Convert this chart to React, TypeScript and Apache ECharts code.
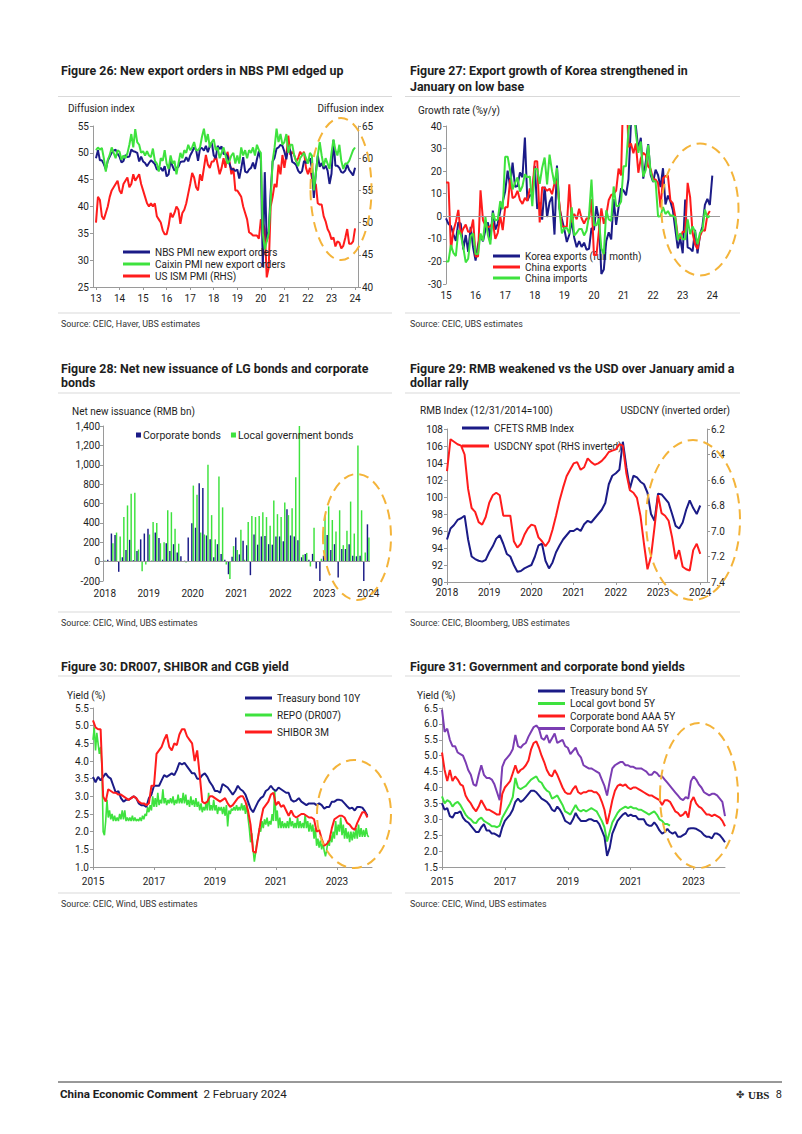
import React, { useEffect, useRef } from "react";
import * as echarts from "echarts";

const FONT = 'Roboto, "Noto Sans", "DejaVu Sans", sans-serif';
const NAVY = "#1b1b87";
const GREEN = "#3ee23e";
const RED = "#ff1c1c";
const PURPLE = "#7b3db3";
const ORANGE = "#f4b43a";
const AXIS = "#9a9a9a";
const INK = "#1e1e1e";
const RULE = "#d9d9d9";

// ---------------- Figure 26 (monthly, Jan 2013 - Jan 2024) ----------------
const fig26Start = 2013;
const fig26Years = [2013, 2014, 2015, 2016, 2017, 2018, 2019, 2020, 2021, 2022, 2023, 2024];
const nbsNewExportOrders = [
  49.0, 50.5, 48.6, 48.6, 47.9, 46.9, 48.5, 49.3, 50.0, 50.4, 50.6, 49.8,
  49.3, 48.2, 48.5, 49.6, 49.2, 49.3, 50.6, 50.3, 50.2, 50.0, 48.4, 49.3,
  48.4, 48.1, 47.5, 48.1, 48.6, 48.3, 47.9, 46.9, 46.9, 47.2, 46.6, 47.5,
  45.6, 46.0, 48.6, 47.5, 46.7, 47.2, 47.4, 48.3, 48.4, 48.4, 49.2, 48.4,
  49.5, 50.2, 51.0, 50.6, 48.5, 50.8, 50.9, 50.4, 51.3, 50.1, 51.3, 51.9,
  49.5, 49.0, 51.3, 50.7, 51.2, 49.8, 49.8, 49.4, 48.0, 46.9, 47.0, 46.6,
  46.9, 45.2, 47.1, 49.2, 46.5, 46.3, 46.9, 47.2, 48.2, 47.0, 48.8, 50.3,
  48.7, 28.7, 46.4, 33.5, 35.3, 42.6, 48.4, 49.1, 50.8, 51.0, 51.5, 51.3,
  50.2, 48.8, 51.2, 50.4, 48.3, 48.1, 47.7, 46.7, 46.2, 46.6, 48.5, 48.1,
  48.4, 49.0, 47.2, 41.6, 46.2, 49.5, 47.4, 48.1, 47.0, 47.6, 46.7, 44.2,
  46.1, 52.4, 47.6, 47.6, 47.2, 46.4, 46.3, 46.7, 47.8, 46.8, 46.3, 45.8,
  47.2,
];
const caixinNewExportOrders = [
  50.5, 51.0, 50.6, 50.9, 49.0, 46.5, 48.7, 49.6, 51.0, 50.0, 49.0, 50.5,
  50.2, 48.7, 49.5, 49.0, 49.9, 51.5, 53.5, 51.0, 54.4, 52.0, 51.5, 50.0,
  50.3, 49.5, 50.3, 49.5, 49.2, 50.8, 48.5, 48.0, 46.5, 49.0, 48.5, 50.5,
  48.0, 47.0, 49.5, 48.0, 48.5, 46.0, 48.0, 50.0, 49.0, 50.5, 50.0, 51.5,
  50.5, 51.0, 52.0, 50.5, 50.5, 51.0, 53.0, 54.5, 52.0, 53.5, 51.0, 52.0,
  52.5, 50.5, 51.0, 49.0, 50.0, 51.0, 49.5, 48.0, 48.5, 49.5, 50.0, 48.0,
  49.5, 48.0, 51.0, 49.5, 50.5, 49.0, 50.5, 50.0, 51.0, 49.5, 51.5, 50.5,
  50.0, 35.0, 32.0, 33.5, 35.0, 41.0, 48.5, 51.0, 54.5, 52.0, 53.5, 51.5,
  52.0, 53.5, 50.0, 51.5, 51.5, 49.5, 48.5, 47.5, 49.0, 49.5, 50.0, 49.0,
  48.0, 50.0, 49.5, 43.0, 46.0, 49.5, 52.0, 49.5, 47.5, 49.0, 48.0, 47.0,
  50.0, 52.5, 50.5, 49.5, 51.5, 48.5, 47.0, 48.0, 48.0, 48.5, 49.5, 50.5,
  51.0,
];
const usIsmPmi = [
  50.0, 54.0, 53.5, 51.0, 50.5, 51.5, 52.5, 54.0, 55.0, 55.5, 56.0, 56.5,
  55.0, 54.5, 56.0, 56.5, 57.0, 55.5, 56.0, 57.5, 56.5, 57.0, 57.5, 56.0,
  55.0, 54.0, 53.0, 52.5, 53.0, 52.5, 53.0, 51.0, 50.5, 50.0, 48.8, 48.2,
  48.2, 49.5, 51.5, 50.8, 51.5, 52.5, 52.0, 49.8, 51.5, 52.0, 53.0, 54.5,
  56.0, 57.7, 57.0, 55.5, 55.0, 57.5, 56.5, 58.5, 60.5, 59.0, 58.5, 59.5,
  59.5, 60.5, 59.0, 57.5, 58.5, 60.0, 58.5, 61.0, 59.5, 57.5, 58.5, 55.0,
  55.0, 54.5, 54.0, 52.5, 51.5, 50.5, 48.5, 48.3, 48.0, 48.0, 48.0, 47.5,
  50.5, 50.0, 49.0, 41.5, 43.0, 52.5, 54.0, 56.0, 55.5, 59.0, 57.5, 60.5,
  58.5, 60.5, 63.5, 60.5, 61.0, 60.5, 59.5, 60.0, 61.0, 60.5, 61.0, 58.5,
  57.5, 58.5, 57.0, 55.5, 56.0, 53.0, 52.8, 52.8, 51.0, 50.2, 49.0, 48.4,
  47.4, 47.7, 46.3, 47.1, 46.9, 46.0, 46.4, 47.6, 49.0, 46.7, 46.7, 47.1,
  49.1,
];

// ---------------- Figure 27 (monthly, Jan 2015 - Jan 2024) ----------------
const fig27Start = 2015;
const fig27Years = [2015, 2016, 2017, 2018, 2019, 2020, 2021, 2022, 2023, 2024];
const koreaExports = [
  -0.9, -3.4, -4.3, -8.0, -10.9, -2.7, -3.3, -14.7, -8.3, -15.8, -4.7, -13.9,
  -19.6, -12.5, -8.3, -11.1, -6.0, -2.7, -10.4, 2.5, -5.9, -3.2, 2.3, 6.4,
  11.1, 20.2, 13.1, 23.8, 13.1, 13.4, 19.4, 17.3, 34.9, 6.8, 9.5, 8.9,
  22.3, 3.3, 6.1, -1.5, 13.2, -0.3, 6.2, 8.7, -8.1, 22.5, 3.6, -1.2,
  -5.8, -11.4, -8.2, -2.0, -9.5, -13.7, -11.0, -13.6, -11.7, -14.8, -14.4, -5.2,
  -6.1, 4.5, -1.4, -25.6, -23.6, -10.9, -7.1, -10.3, 7.6, -3.8, 4.1, 12.4,
  11.4, 9.3, 16.4, 41.2, 45.6, 39.8, 29.5, 34.8, 16.7, 24.0, 32.0, 18.3,
  15.2, 20.6, 18.2, 12.9, 21.3, 5.2, 9.2, 6.6, 2.7, -5.8, -14.2, -9.7,
  -16.4, 7.4, -13.8, -14.3, -15.5, -6.0, -16.4, -8.3, -4.4, 5.1, 7.7, 5.0,
  18.0,
];
const chinaExports = [
  15.0, 15.0, -15.0, -6.4, -2.5, 2.8, -8.3, -5.5, -3.7, -6.9, -6.8, -1.4,
  -17.8, -17.8, 11.5, -1.8, -4.1, -4.8, -4.4, -2.8, -10.0, -7.3, 0.1, -6.1,
  4.0, 4.0, 16.4, 8.0, 8.7, 11.3, 7.2, 5.5, 8.1, 6.9, 12.3, 10.9,
  24.4, 24.4, -2.7, 12.9, 12.6, 11.3, 12.2, 9.8, 14.5, 15.6, 5.4, -4.4,
  -4.6, -4.6, 14.2, -2.7, 1.1, -1.3, 3.3, -1.0, -3.2, -0.9, -1.1, 7.6,
  -17.2, -17.2, -6.6, 3.5, -3.3, 0.5, 7.2, 9.5, 9.9, 11.4, 21.1, 18.1,
  60.6, 60.6, 30.6, 32.3, 27.9, 32.2, 19.3, 25.6, 28.1, 27.1, 22.0, 20.9,
  16.3, 16.3, 14.7, 3.9, 16.9, 17.9, 18.0, 7.1, 5.7, -0.3, -8.7, -9.9,
  -6.8, -6.8, 14.8, 8.5, -7.5, -12.4, -14.5, -8.8, -6.2, -6.4, 0.5, 2.3,
];
const chinaImports = [
  -20.0, -20.0, -12.7, -16.2, -17.6, -6.1, -8.1, -13.8, -20.4, -18.8, -8.7, -7.6,
  -16.7, -16.7, -7.6, -10.9, -0.4, -8.4, -12.5, 1.5, -1.9, -1.4, 6.7, 3.1,
  26.4, 26.4, 20.3, 11.9, 14.8, 17.2, 11.0, 13.3, 18.7, 17.2, 17.7, 4.5,
  21.0, 21.0, 14.4, 21.5, 26.0, 14.1, 27.3, 20.0, 14.3, 21.4, 3.0, -7.6,
  -5.2, -5.2, -7.6, 4.0, -8.5, -7.3, -5.6, -5.6, -8.5, -6.4, 0.3, 16.3,
  -4.0, -4.0, -0.9, -14.2, -16.7, 2.7, -1.4, -2.1, 13.2, 4.7, 4.5, 6.5,
  22.2, 22.2, 38.1, 43.1, 51.1, 36.7, 28.1, 33.1, 17.6, 20.6, 31.7, 19.5,
  15.5, 15.5, -0.1, 0.0, 4.1, 1.0, 2.3, 0.3, 0.3, -0.7, -10.6, -7.5,
  -10.2, -10.2, -1.4, -7.9, -4.5, -6.8, -12.4, -7.3, -6.2, 3.0, -0.6, 0.2,
];

// ---------------- Figure 28 (monthly bars, Jan 2018 - Jan 2024, RMB bn) ----------------
const fig28Months = Array.from({ length: 73 }, (_, i) =>
  `${2018 + Math.floor(i / 12)}-${String((i % 12) + 1).padStart(2, "0")}`
);
const corporateBonds = [
  10, 20, 290, 275, -105, 45, 120, 225, 15, 110, 230, 290,
  340, 10, 300, 245, 20, 190, 110, 180, 95, 55, 10, 250,
  395, 350, 810, 760, 270, 230, 45, 180, 80, 20, -130, 50,
  250, 75, 215, 170, -140, 280, 175, 260, 265, 180, 175, 260,
  260, 210, 540, 270, 260, 220, 45, 80, 20, 80, -70, -210,
  60, 275, 120, 180, -165, 130, 130, 180, 60, 55, 60, -215,
  385,
];
const localGovtBonds = [
  10, 0, 190, 300, 260, 460, 580, 700, 710, 125, -100, -30,
  280, 410, 400, 190, 200, 530, 510, 340, 185, 0, -10, 0,
  785, 690, 300, 280, 1000, 480, 230, 880, 560, -30, -180, 160,
  120, 330, 20, 410, 470, 460, 470, 510, 460, 370, 630, 490,
  460, 610, 480, 550, 870, 1400, 70, 90, -50, 350, 0, 30,
  480, 570, 430, 310, 530, 170, 320, 620, 290, 1200, 530, 95,
  250,
];

// ---------------- Figure 29 (monthly, Jan 2018 - Jan 2024) ----------------
const fig29Start = 2018;
const fig29Years = [2018, 2019, 2020, 2021, 2022, 2023, 2024];
const cfetsRmbIndex = [
  95.0, 96.3, 96.7, 97.3, 97.5, 97.8, 95.0, 93.0, 92.7, 92.5, 92.4, 92.6,
  93.5, 94.2, 95.1, 95.5, 94.5, 93.3, 93.0, 92.0, 91.2, 91.3, 91.6, 91.8,
  92.0, 93.0, 94.3, 94.5, 92.5, 91.6, 92.3, 93.5, 94.3, 95.0, 95.5, 96.0,
  96.0, 96.3, 96.0, 96.8, 97.2, 97.0, 97.5, 98.0, 98.5, 99.3, 101.5, 102.5,
  102.8, 103.2, 106.5, 103.5, 101.0, 102.5, 102.3, 101.8, 101.5, 100.5, 98.0, 97.2,
  100.4, 100.3, 99.8, 99.3, 98.0, 96.6, 96.3, 97.0, 98.5, 99.6, 98.7, 98.0,
  99.0,
];
const usdcnySpot = [
  6.53, 6.28, 6.30, 6.32, 6.33, 6.40, 6.67, 6.82, 6.85, 6.93, 6.95, 6.89,
  6.78, 6.72, 6.70, 6.72, 6.88, 6.88, 6.88, 7.08, 7.13, 7.10, 7.03, 6.98,
  6.95, 6.96, 7.05, 7.08, 7.12, 7.08, 6.99, 6.88, 6.76, 6.66, 6.57, 6.52,
  6.47, 6.46, 6.52, 6.50, 6.43, 6.46, 6.48, 6.47, 6.45, 6.42, 6.38, 6.37,
  6.36, 6.32, 6.33, 6.55, 6.68, 6.70, 6.74, 6.88, 7.10, 7.30, 7.20, 6.97,
  6.72, 6.86, 6.88, 6.92, 7.05, 7.22, 7.15, 7.28, 7.30, 7.31, 7.15, 7.10,
  7.18,
];

// ---------------- Figure 30 (Jan 2015 - Jan 2024) ----------------
const fig30Start = 2015;
const fig30Years = [2015, 2017, 2019, 2021, 2023];
const treasury10y = [
  3.55, 3.40, 3.55, 3.45, 3.55, 3.65, 3.55, 3.50, 3.30, 3.10, 3.15, 2.95,
  2.85, 2.90, 2.90, 2.95, 3.00, 2.95, 2.80, 2.75, 2.75, 2.70, 2.95, 3.05,
  3.30, 3.30, 3.30, 3.45, 3.60, 3.55, 3.60, 3.65, 3.60, 3.75, 3.95, 3.90,
  3.95, 3.85, 3.75, 3.65, 3.65, 3.50, 3.50, 3.60, 3.65, 3.55, 3.40, 3.30,
  3.15, 3.15, 3.10, 3.35, 3.30, 3.25, 3.15, 3.05, 3.15, 3.30, 3.20, 3.15,
  3.05, 2.85, 2.65, 2.55, 2.70, 2.85, 2.95, 3.00, 3.15, 3.20, 3.30, 3.20,
  3.15, 3.25, 3.20, 3.15, 3.10, 3.10, 2.90, 2.85, 2.88, 2.95, 2.85, 2.80,
  2.75, 2.80, 2.80, 2.80, 2.75, 2.80, 2.75, 2.65, 2.70, 2.70, 2.85, 2.85,
  2.90, 2.90, 2.88, 2.80, 2.72, 2.65, 2.68, 2.60, 2.70, 2.70, 2.68, 2.58,
  2.45,
];
// semi-monthly
const repoDr007 = [
  4.6, 4.95, 4.3, 4.8, 4.5, 4.2, 4.4, 3.9, 2.0, 1.9, 2.3, 2.9, 2.4, 2.6, 2.35, 2.5, 2.3, 2.45, 2.3, 2.4, 2.3, 2.5, 2.35, 2.6,
  2.35, 2.6, 2.3, 2.4, 2.3, 2.4, 2.3, 2.45, 2.3, 2.4, 2.3, 2.35, 2.3, 2.4, 2.3, 2.45, 2.35, 2.5, 2.45, 2.7, 2.55, 2.75, 2.6, 3.0,
  2.7, 2.95, 2.7, 3.1, 2.75, 2.9, 2.8, 3.2, 2.8, 2.95, 2.75, 2.9, 2.8, 2.95, 2.8, 3.0, 2.75, 2.9, 2.8, 3.05, 2.8, 2.95, 2.8, 3.1,
  2.8, 3.05, 2.75, 2.9, 2.7, 3.0, 2.75, 2.9, 2.7, 2.95, 2.7, 2.85, 2.6, 2.8, 2.55, 2.7, 2.6, 2.8, 2.6, 3.1, 2.6, 2.75, 2.6, 2.9,
  2.6, 2.75, 2.5, 2.7, 2.6, 2.7, 2.5, 2.7, 2.45, 2.75, 2.15, 2.6, 2.5, 2.65, 2.6, 2.7, 2.6, 2.75, 2.6, 2.7, 2.6, 2.8, 2.6, 2.75,
  2.5, 2.8, 2.4, 2.1, 1.7, 1.95, 1.5, 1.15, 1.4, 1.7, 1.85, 2.1, 2.0, 2.3, 2.1, 2.35, 2.2, 2.4, 2.15, 2.3, 2.2, 2.5, 2.3, 3.2,
  2.3, 2.6, 2.1, 2.4, 2.1, 2.3, 2.1, 2.25, 2.1, 2.3, 2.1, 2.4, 2.15, 2.3, 2.1, 2.25, 2.1, 2.4, 2.1, 2.3, 2.1, 2.25, 2.1, 2.5,
  2.1, 2.3, 2.0, 2.25, 2.0, 2.2, 1.8, 2.1, 1.6, 1.8, 1.55, 1.75, 1.5, 1.7, 1.45, 1.3, 1.5, 1.75, 1.6, 1.9, 1.7, 2.0, 1.8, 2.3,
  1.9, 2.2, 2.0, 2.4, 1.9, 2.2, 1.8, 2.1, 1.8, 2.0, 1.7, 2.0, 1.75, 2.0, 1.8, 2.1, 1.8, 2.2, 1.85, 2.1, 1.85, 2.05, 1.85, 2.1,
  1.9, 1.85,
];
const shibor3m = [
  5.15, 4.95, 4.90, 4.90, 3.00, 2.85, 3.20, 3.15, 3.10, 3.10, 3.05, 3.05,
  3.00, 2.95, 2.90, 2.95, 3.00, 2.95, 2.85, 2.80, 2.80, 2.75, 2.80, 3.30,
  3.30, 4.20, 4.30, 4.40, 4.60, 4.75, 4.40, 4.30, 4.50, 4.45, 4.75, 4.90,
  4.90, 4.70, 4.60, 4.50, 4.00, 4.30, 3.60, 2.85, 2.80, 2.85, 3.00, 3.00,
  2.95, 2.90, 2.85, 2.90, 2.95, 2.80, 2.70, 2.75, 2.85, 2.95, 3.00, 3.00,
  2.85, 2.60, 2.20, 1.45, 1.40, 1.85, 2.30, 2.65, 2.75, 2.85, 3.05, 3.10,
  2.75, 2.85, 2.70, 2.75, 2.60, 2.45, 2.60, 2.45, 2.40, 2.45, 2.50, 2.50,
  2.45, 2.40, 2.40, 2.35, 2.00, 2.05, 1.80, 1.60, 1.65, 1.75, 2.10, 2.35,
  2.40, 2.45, 2.45, 2.40, 2.25, 2.20, 2.10, 2.05, 2.25, 2.40, 2.55, 2.55,
  2.40,
];

// ---------------- Figure 31 (monthly, Jan 2015 - Jan 2024) ----------------
const fig31Start = 2015;
const treasury5y = [
  3.50, 3.30, 3.35, 3.10, 3.05, 3.20, 3.20, 3.25, 3.05, 2.95, 2.90, 2.80,
  2.70, 2.60, 2.60, 2.75, 2.85, 2.65, 2.65, 2.55, 2.55, 2.50, 2.45, 2.75,
  2.95, 3.05, 3.15, 3.30, 3.55, 3.65, 3.55, 3.60, 3.70, 3.80, 3.90, 3.90,
  3.85, 3.75, 3.65, 3.60, 3.55, 3.45, 3.30, 3.25, 3.40, 3.30, 3.15, 2.95,
  2.90, 2.85, 3.00, 3.20, 3.05, 2.95, 2.95, 2.95, 3.00, 3.00, 2.95, 2.95,
  2.85, 2.65, 2.45, 1.85, 2.10, 2.55, 2.75, 2.95, 3.05, 3.15, 3.20, 3.10,
  3.15, 3.10, 3.10, 3.00, 3.00, 3.00, 2.85, 2.80, 2.80, 2.90, 2.80, 2.65,
  2.55, 2.60, 2.70, 2.60, 2.55, 2.60, 2.45, 2.45, 2.50, 2.55, 2.70, 2.72,
  2.72, 2.70, 2.65, 2.60, 2.50, 2.45, 2.45, 2.40, 2.55, 2.55, 2.50, 2.40,
  2.28,
];
const localGovt5y = [
  3.72, 3.50, 3.60, 3.55, 3.40, 3.50, 3.55, 3.45, 3.30, 3.15, 3.05, 3.00,
  2.90, 2.88, 3.00, 3.05, 2.95, 2.90, 2.85, 2.78, 2.78, 2.75, 2.80, 3.05,
  3.20, 3.35, 3.50, 3.70, 4.30, 4.00, 3.95, 4.00, 4.05, 4.15, 4.25, 4.30,
  4.35, 4.20, 4.15, 4.00, 3.90, 3.85, 3.65, 3.70, 3.75, 3.60, 3.45, 3.25,
  3.20, 3.15, 3.30, 3.45, 3.30, 3.25, 3.30, 3.25, 3.30, 3.35, 3.30, 3.25,
  3.10, 2.95, 2.75, 2.30, 2.60, 2.90, 3.05, 3.20, 3.30, 3.35, 3.40, 3.35,
  3.40, 3.35, 3.35, 3.30, 3.30, 3.25, 3.20, 3.15, 3.20, 3.25, 3.15, 3.00,
  2.95, 2.85, 2.85, 2.80,
];
const corporateAaa5y = [
  5.10, 4.55, 4.20, 4.55, 4.20, 4.35, 4.25, 4.10, 4.05, 3.75, 3.60, 3.50,
  3.35, 3.25, 3.40, 3.60, 3.45, 3.30, 3.30, 3.25, 3.20, 3.15, 3.15, 3.80,
  4.00, 4.10, 4.20, 4.45, 4.70, 4.45, 4.55, 4.60, 4.70, 4.85, 5.20, 5.40,
  5.45, 5.25, 5.00, 4.80, 4.55, 4.40, 4.35, 4.55, 4.40, 4.20, 4.00, 3.85,
  3.80, 3.80, 3.95, 4.05, 3.85, 3.80, 3.85, 3.85, 3.90, 3.90, 3.85, 3.85,
  3.75, 3.55, 3.30, 2.85, 3.20, 3.60, 3.90, 4.05, 4.10, 4.05, 4.10, 4.00,
  3.95, 4.00, 4.00, 3.95, 3.90, 3.85, 3.80, 3.75, 3.75, 3.70, 3.65, 3.60,
  3.45, 3.60, 3.60, 3.55, 3.40, 3.25, 3.20, 3.10, 3.15, 3.25, 3.05, 3.55,
  3.70, 3.50, 3.40, 3.35, 3.25, 3.15, 3.15, 3.10, 3.15, 3.10, 3.05, 2.95,
  2.78,
];
const corporateAa5y = [
  6.45, 5.75, 5.85, 5.50, 5.30, 5.30, 5.10, 5.05, 5.00, 4.80, 4.55, 4.40,
  4.10, 4.05, 4.40, 4.70, 4.40, 4.30, 4.30, 4.25, 4.10, 3.85, 3.60, 4.65,
  4.85, 4.95, 5.05, 5.20, 5.65, 5.30, 5.25, 5.35, 5.40, 5.60, 5.75, 5.90,
  5.95, 5.85, 5.55, 5.50, 5.65, 5.40, 5.55, 5.70, 5.40, 5.45, 5.50, 5.30,
  5.25, 5.05, 5.15, 5.25, 5.05, 4.95, 4.70, 4.65, 4.60, 4.60, 4.55, 4.50,
  4.45, 4.25, 4.05, 3.75, 4.20, 4.60, 4.70, 4.75, 4.80, 4.80, 4.70, 4.70,
  4.65, 4.65, 4.60, 4.60, 4.60, 4.55, 4.50, 4.40, 4.40, 4.50, 4.45, 4.35,
  4.35, 4.25, 4.15, 4.05, 3.95, 3.85, 3.75, 3.65, 3.60, 3.70, 3.65, 4.20,
  4.35, 4.25, 4.10, 4.00, 3.85, 3.80, 3.75, 3.80, 3.80, 3.75, 3.65, 3.55,
  3.10,
];

// ---------------- helpers ----------------
const toPoints = (start: number, values: number[], perYear = 12) =>
  values.map((v, i) => [start + i / perYear, v]);

const xValueAxis = (
  gridIndex: number,
  min: number,
  max: number,
  ticks: number[],
  fmt: (v: number) => string,
  showLine: boolean,
  margin: number
) => ({
  type: "value",
  gridIndex,
  min,
  max,
  axisLine: { show: showLine, onZero: false, lineStyle: { color: AXIS, width: 1 } },
  axisTick: { show: showLine, customValues: ticks, length: 3, lineStyle: { color: AXIS } },
  axisLabel: { customValues: ticks, formatter: fmt, fontSize: 10, color: INK, fontFamily: FONT, margin },
  splitLine: { show: false },
});

const yValueAxis = (
  gridIndex: number,
  min: number,
  max: number,
  interval: number,
  fmt?: (v: number) => string,
  extra: any = {}
) => ({
  type: "value",
  gridIndex,
  min,
  max,
  interval,
  axisLine: { show: true, onZero: false, lineStyle: { color: AXIS, width: 1 } },
  axisTick: { show: true, length: 3, lineStyle: { color: AXIS } },
  axisLabel: { fontSize: 10, color: INK, fontFamily: FONT, margin: 4, formatter: fmt },
  splitLine: { show: false },
  ...extra,
});

const lineSeries = (
  name: string,
  color: string,
  data: number[][],
  xAxisIndex: number,
  yAxisIndex: number,
  width = 2,
  z = 2
) => ({
  name,
  type: "line",
  xAxisIndex,
  yAxisIndex,
  data,
  showSymbol: false,
  symbol: "none",
  color,
  lineStyle: { color, width },
  itemStyle: { color },
  z,
  silent: true,
  emphasis: { disabled: true },
});

const zeroLine = {
  silent: true,
  symbol: "none",
  label: { show: false },
  lineStyle: { color: AXIS, type: "solid", width: 1 },
  data: [{ yAxis: 0 }],
};

const lineLegend = (names: string[], left: number, top: number, gap: number, lineHeight = 12) => ({
  show: true,
  orient: "vertical",
  left,
  top,
  padding: 0,
  itemGap: gap,
  itemWidth: 27,
  itemHeight: 3,
  icon: "rect",
  selectedMode: false,
  data: names,
  textStyle: { fontSize: 10, color: INK, fontFamily: FONT, lineHeight },
});

const text = (x: number, y: number, t: string, o: any = {}) => ({
  type: "text",
  x,
  y,
  silent: true,
  z: 50,
  style: {
    text: t,
    fill: o.fill || INK,
    fontSize: o.size || 10,
    fontWeight: o.weight || "normal",
    fontFamily: o.family || FONT,
    align: o.align || "left",
    verticalAlign: "middle",
    rich: o.rich,
  },
});

const rule = (x1: number, x2: number, y: number, color = RULE, w = 1) => ({
  type: "line",
  silent: true,
  z: 50,
  shape: { x1, y1: y, x2, y2: y },
  style: { stroke: color, lineWidth: w },
});

const ring = (cx: number, cy: number, rx: number, ry: number) => ({
  type: "ellipse",
  silent: true,
  z: 100,
  shape: { cx, cy, rx, ry },
  style: { fill: "none", stroke: ORANGE, lineWidth: 2, lineDash: [10, 6] },
});

const twoDigit = (v: number) => String(Math.round(v) % 100).padStart(2, "0");
const fullYear = (v: number) => String(Math.round(v));
const oneDec = (v: number) => v.toFixed(1);
const thousands = (v: number) => Math.round(v).toLocaleString("en-US");

function buildOption() {
  const LX0 = 58, LX1 = 392, RX0 = 405, RX1 = 740;
  const TITLE = { size: 12.4, weight: "bold" };
  const SRC = { size: 8.9, fill: "#333" };

  const graphicElements: any[] = [
    // Figure 26
    text(61, 70, "Figure 26: New export orders in NBS PMI edged up", TITLE),
    rule(LX0, LX1, 96.5),
    text(68, 108, "Diffusion index"),
    text(384, 108, "Diffusion index", { align: "right" }),
    rule(LX0, LX1, 313),
    text(61, 324, "Source: CEIC, Haver, UBS estimates", SRC),
    ring(341, 189, 30.5, 71),
    // Figure 27
    text(410, 70, "Figure 27: Export growth of Korea strengthened in", TITLE),
    text(410, 86, "January on low base", TITLE),
    rule(RX0, RX1, 96.5),
    text(418, 110, "Growth rate (%y/y)"),
    rule(RX0, RX1, 313),
    text(410, 324, "Source: CEIC, UBS estimates", SRC),
    ring(700, 209.5, 38.5, 66),
    // Figure 28
    text(61, 368, "Figure 28: Net new issuance of LG bonds and corporate", TITLE),
    text(61, 382.5, "bonds", TITLE),
    rule(LX0, LX1, 393),
    text(72, 411, "Net new issuance (RMB bn)"),
    rule(LX0, LX1, 612),
    text(61, 622.5, "Source: CEIC, Wind, UBS estimates", SRC),
    ring(357, 537, 34, 63),
    // Figure 29
    text(410, 368, "Figure 29: RMB weakened vs the USD over January amid a", TITLE),
    text(410, 382.5, "dollar rally", TITLE),
    rule(RX0, RX1, 393),
    text(420, 410, "RMB Index (12/31/2014=100)"),
    text(730, 410, "USDCNY (inverted order)", { align: "right" }),
    rule(RX0, RX1, 612),
    text(410, 622.5, "Source: CEIC, Bloomberg, UBS estimates", SRC),
    ring(693, 520, 47, 80),
    // Figure 30
    text(61, 666, "Figure 30: DR007, SHIBOR and CGB yield", TITLE),
    rule(LX0, LX1, 676),
    text(67, 695, "Yield (%)"),
    rule(LX0, LX1, 893),
    text(61, 903.5, "Source: CEIC, Wind, UBS estimates", SRC),
    ring(354, 814, 37, 54),
    // Figure 31
    text(410, 666, "Figure 31: Government and corporate bond yields", TITLE),
    rule(RX0, RX1, 676),
    text(417, 695, "Yield (%)"),
    rule(RX0, RX1, 893),
    text(410, 903.5, "Source: CEIC, Wind, UBS estimates", SRC),
    ring(699, 795.5, 39, 72.5),
    // Footer
    rule(58, 782, 1082, "#333", 1),
    text(60, 1093.5, "{b|China Economic Comment}{r|  2 February 2024}", {
      rich: {
        b: { fontSize: 11.6, fontWeight: "bold", fontFamily: FONT, fill: INK },
        r: { fontSize: 11.6, fontFamily: FONT, fill: INK },
      },
    }),
    text(736, 1094, "✤", { size: 10, family: '"DejaVu Sans", sans-serif', fill: "#333" }),
    text(748, 1094.5, "UBS", { size: 11, weight: "bold", family: '"Liberation Serif", "DejaVu Serif", serif' }),
    text(782, 1094, "8", { size: 11, align: "right" }),
  ];

  return {
    animation: false,
    backgroundColor: "#ffffff",
    textStyle: { fontFamily: FONT },
    grid: [
      { left: 93, top: 126, width: 265, height: 161 },
      { left: 446, top: 126, width: 274, height: 158 },
      { left: 103, top: 426, width: 267, height: 155 },
      { left: 447, top: 429, width: 260, height: 153 },
      { left: 93, top: 708, width: 279, height: 159 },
      { left: 442, top: 708, width: 283, height: 159 },
    ],
    xAxis: [
      xValueAxis(0, 2012.873, 2024.125, fig26Years, twoDigit, true, 6),
      xValueAxis(1, 2015, 2024.26, fig27Years, twoDigit, false, 6),
      {
        type: "category",
        gridIndex: 2,
        data: fig28Months,
        boundaryGap: true,
        axisLine: { show: false },
        axisTick: { show: false },
        axisLabel: {
          interval: 11,
          formatter: (v: string) => v.slice(0, 4),
          fontSize: 10,
          color: INK,
          fontFamily: FONT,
          margin: 7,
        },
        splitLine: { show: false },
      },
      xValueAxis(3, 2018, 2024.16, fig29Years, fullYear, true, 5),
      xValueAxis(4, 2015, 2024.15, fig30Years, fullYear, true, 9),
      xValueAxis(5, 2015, 2024.0, fig30Years, fullYear, true, 9),
    ],
    yAxis: [
      yValueAxis(0, 25, 55, 5),
      yValueAxis(0, 40, 65, 5, undefined, { position: "right" }),
      yValueAxis(1, -30, 40, 10),
      yValueAxis(2, -200, 1400, 200, thousands, { axisLabel: { fontSize: 10, color: INK, fontFamily: FONT, margin: 3, formatter: thousands } }),
      yValueAxis(3, 90, 108, 2),
      yValueAxis(3, 6.2, 7.4, 0.2, oneDec, { position: "right", inverse: true }),
      yValueAxis(4, 1.0, 5.5, 0.5, oneDec),
      yValueAxis(5, 1.5, 6.5, 0.5, oneDec),
    ],
    legend: [
      lineLegend(["NBS PMI new export orders", "Caixin PMI new export orders", "US ISM PMI (RHS)"], 123, 246, 0, 12),
      lineLegend(["Korea exports (full month)", "China exports", "China imports"], 493, 250.5, 0, 11),
      {
        show: true,
        orient: "horizontal",
        left: 136,
        top: 429,
        padding: 0,
        itemGap: 10,
        itemWidth: 5,
        itemHeight: 5,
        icon: "rect",
        selectedMode: false,
        data: ["Corporate bonds", "Local government bonds"],
        textStyle: { fontSize: 10.5, color: INK, fontFamily: FONT, lineHeight: 12, padding: [0, 0, 0, -3] },
      },
      lineLegend(["CFETS RMB Index", "USDCNY spot (RHS inverted)"], 462, 422, 6, 12),
      lineLegend(["Treasury bond 10Y", "REPO (DR007)", "SHIBOR 3M"], 245, 692, 5, 12),
      lineLegend(["Treasury bond 5Y", "Local govt bond 5Y", "Corporate bond AAA 5Y", "Corporate bond AA 5Y"], 538, 685, 0.5, 12),
    ],
    series: [
      // Fig 26
      lineSeries("US ISM PMI (RHS)", RED, toPoints(fig26Start, usIsmPmi), 0, 1, 2, 2),
      lineSeries("NBS PMI new export orders", NAVY, toPoints(fig26Start, nbsNewExportOrders), 0, 0, 2, 3),
      lineSeries("Caixin PMI new export orders", GREEN, toPoints(fig26Start, caixinNewExportOrders), 0, 0, 2, 4),
      // Fig 27
      {
        ...lineSeries("Korea exports (full month)", NAVY, toPoints(fig27Start, koreaExports), 1, 2, 2, 3),
        markLine: zeroLine,
      },
      lineSeries("China exports", RED, toPoints(fig27Start, chinaExports), 1, 2, 2, 4),
      lineSeries("China imports", GREEN, toPoints(fig27Start, chinaImports), 1, 2, 2, 5),
      // Fig 28
      {
        name: "Corporate bonds",
        type: "bar",
        xAxisIndex: 2,
        yAxisIndex: 3,
        data: corporateBonds,
        color: NAVY,
        itemStyle: { color: NAVY },
        barGap: "0%",
        barCategoryGap: "20%",
        silent: true,
        markLine: zeroLine,
      },
      {
        name: "Local government bonds",
        type: "bar",
        xAxisIndex: 2,
        yAxisIndex: 3,
        data: localGovtBonds,
        color: GREEN,
        itemStyle: { color: GREEN },
        barGap: "0%",
        barCategoryGap: "20%",
        silent: true,
      },
      // Fig 29
      lineSeries("CFETS RMB Index", NAVY, toPoints(fig29Start, cfetsRmbIndex), 3, 4, 2, 3),
      lineSeries("USDCNY spot (RHS inverted)", RED, toPoints(fig29Start, usdcnySpot), 3, 5, 2, 4),
      // Fig 30
      lineSeries("REPO (DR007)", GREEN, toPoints(fig30Start, repoDr007, 24), 4, 6, 1.6, 2),
      lineSeries("Treasury bond 10Y", NAVY, toPoints(fig30Start, treasury10y), 4, 6, 2, 3),
      lineSeries("SHIBOR 3M", RED, toPoints(fig30Start, shibor3m), 4, 6, 2, 4),
      // Fig 31
      lineSeries("Corporate bond AA 5Y", PURPLE, toPoints(fig31Start, corporateAa5y), 5, 7, 2, 2),
      lineSeries("Corporate bond AAA 5Y", RED, toPoints(fig31Start, corporateAaa5y), 5, 7, 2, 3),
      lineSeries("Local govt bond 5Y", GREEN, toPoints(fig31Start, localGovt5y), 5, 7, 2, 4),
      lineSeries("Treasury bond 5Y", NAVY, toPoints(fig31Start, treasury5y), 5, 7, 2, 5),
    ],
    graphic: { elements: graphicElements },
  };
}

export default function App() {
  const ref = useRef<HTMLDivElement>(null);
  useEffect(() => {
    if (!ref.current) return;
    const chart = echarts.init(ref.current, undefined, { renderer: "svg" });
    chart.setOption(buildOption() as any);
    return () => chart.dispose();
  }, []);
  return (
    <div
      ref={ref}
      style={{ position: "absolute", left: 0, top: 0, width: "802px", height: "1134px", background: "#fff" }}
    />
  );
}
